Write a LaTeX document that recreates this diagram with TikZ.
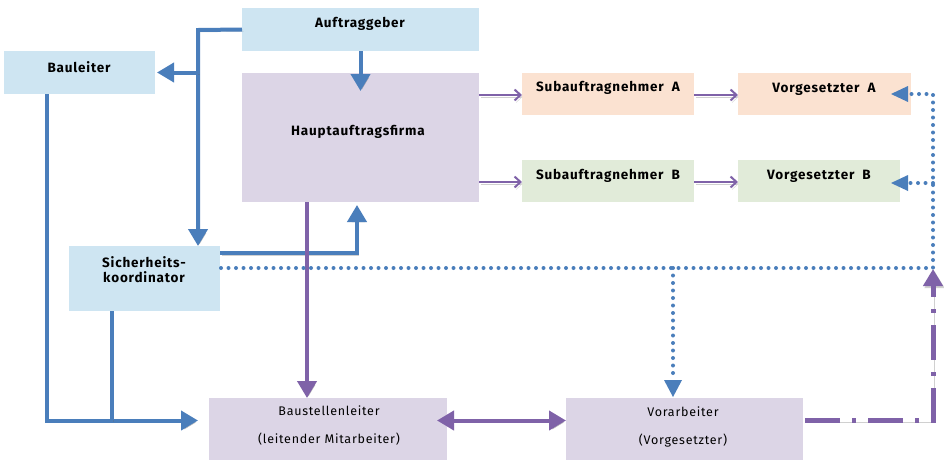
\documentclass[tikz,border=0pt]{standalone}
\usepackage{fontspec}
\setmainfont{Fira Sans}
\newfontfamily\labfont[LetterSpace=6]{Fira Sans}
\usetikzlibrary{arrows.meta}
\definecolor{cBlueBox}{HTML}{CEE5F2}
\definecolor{cPurpBox}{HTML}{DCD5E6}
\definecolor{cPeach}{HTML}{FBE2D1}
\definecolor{cGreen}{HTML}{E1EBD9}
\definecolor{cBlue}{HTML}{4A7EBB}
\definecolor{cPurp}{HTML}{7F62A8}
\tikzset{
  box/.style={draw=none, inner sep=0pt, outer sep=0pt},
  lbl/.style={inner sep=0pt, font=\labfont\fontsize{13.5}{15}\selectfont\bfseries, align=center},
  lblr/.style={inner sep=0pt, font=\labfont\fontsize{12.5}{28}\selectfont, align=center},
  shadowed/.style={preaction={draw=black!60, opacity=.3, transform canvas={shift={(1.5pt,-2pt)}}}},
  bluearrow/.style={shadowed, draw=cBlue, line width=4pt, -{Triangle[length=17pt,width=19pt]}},
  blueline/.style={shadowed, draw=cBlue, line width=4pt},
  purparrow/.style={shadowed, draw=cPurp, line width=4pt, -{Triangle[length=17pt,width=19pt]}},
  thinarrow/.style={shadowed, draw=cPurp, line width=2pt, -{Straight Barb[length=6pt,width=11pt,line width=2pt]}},
  dotline/.style={draw=cBlue, line width=4pt, line cap=round, dash pattern=on 0pt off 7.5pt},
}
\begin{document}
\begin{tikzpicture}[x=1pt,y=-1pt]
\useasboundingbox (0,0) rectangle (944,459);
\fill[white] (0,0) rectangle (944,459);
% boxes
\node[box, fill=cBlueBox, minimum width=237pt, minimum height=43pt] (auf) at (360.5,29.5) {};
\node[box, fill=cBlueBox, minimum width=151pt, minimum height=43pt] (bau) at (79.5,72.5) {};
\node[box, fill=cPurpBox, minimum width=237pt, minimum height=129pt] (hpt) at (360.5,137.5) {};
\node[box, fill=cPeach, minimum width=172pt, minimum height=42pt] (subA) at (608,94) {};
\node[box, fill=cPeach, minimum width=173pt, minimum height=42pt] (vorA) at (824.5,94) {};
\node[box, fill=cGreen, minimum width=172pt, minimum height=42pt] (subB) at (608,181) {};
\node[box, fill=cGreen, minimum width=162pt, minimum height=42pt] (vorB) at (819,181) {};
\node[box, fill=cBlueBox, minimum width=151pt, minimum height=65pt] (sik) at (144.5,278.5) {};
\node[box, fill=cPurpBox, minimum width=238pt, minimum height=62pt] (bst) at (328,429) {};
\node[box, fill=cPurpBox, minimum width=237pt, minimum height=62pt] (vor) at (684.5,429) {};
% labels
\node[lbl] (tauf) at (360,24) {Auftraggeber};
\node[lbl] (tbau) at (79,67) {Bauleiter};
\node[lbl] (thpt) at (358,132) {Hauptauftragsfirma};
\node[lbl] (tsubA) at (608,88) {Subauftragnehmer~~A};
\node[lbl] (tvorA) at (824,89) {Vorgesetzter~~A};
\node[lbl] (tsubB) at (608,176) {Subauftragnehmer~~B};
\node[lbl] (tvorB) at (819,176) {Vorgesetzter~~B};
\node[lbl] (tsik) at (144,270) {Sicherheits-\\koordinator};
\node[lblr] (tbst) at (329,426) {Baustellenleiter\\(leitender Mitarbeiter)};
\node[lblr] (tvor) at (683,427) {Vorarbeiter\\(Vorgesetzter)};
% junction coordinates
\coordinate (j1) at (198,30);
\coordinate (rc) at (933,268);
% blue connectors
\draw[bluearrow] (auf.south) -- ([yshift=-18pt]auf.south |- hpt.north);
\draw[bluearrow] (auf.west) -- (j1) -- (j1 |- sik.north);
\draw[bluearrow] (j1 |- bau.east) -- ([xshift=2pt]bau.east);
\draw[bluearrow] ([xshift=-32.5pt]bau.south) |- ([xshift=-11pt,yshift=8.5pt]bst.west);
\draw[blueline] ([xshift=-32.5pt]sik.south) -- ([xshift=-32.5pt]sik.south |- 0,420);
\draw[bluearrow] ([yshift=25.5pt]sik.east) -| ([xshift=-3.5pt,yshift=-3pt]hpt.south);
% purple connectors
\draw[purparrow] ([xshift=-53.5pt]hpt.south) -- ([xshift=-21pt]bst.north);
\draw[purparrow, {Triangle[length=17pt,width=19pt]}-{Triangle[length=17pt,width=19pt]}] ([xshift=-10pt,yshift=8.5pt]bst.east) -- ([yshift=8.5pt]vor.west);
\draw[shadowed, draw=cPurp, line width=5pt, dash pattern=on 35pt off 12pt on 4pt off 12pt, -{Triangle[length=17pt,width=19pt]}] ([xshift=2pt,yshift=8.5pt]vor.east) -| ([yshift=-1pt]rc);
\draw[thinarrow] (hpt.east |- 0,95) -- (subA.west |- 0,95);
\draw[thinarrow] (subA.east |- 0,95) -- (vorA.west |- 0,95);
\draw[thinarrow] (hpt.east |- 0,182) -- (subB.west |- 0,182);
\draw[thinarrow] (subB.east |- 0,182) -- (vorB.west |- 0,182);
% dotted connectors
\draw[dotline] ([xshift=1pt,yshift=10.5pt]sik.east) -- (rc) -- (rc |- vorA.east) -- ([xshift=-1pt]vorA.east);
\draw[dotline] (rc |- 0,183) -- ([xshift=9pt]vorB.east |- 0,183);
\draw[dotline] ([xshift=-11.5pt]vor.north |- rc) -- ([xshift=-11.5pt,yshift=18pt]vor.north);
\fill[cBlue] ([xshift=-20pt]vorA.east) -- ++(17,-8) -- ++(0,16) -- cycle;
\fill[cBlue] ([xshift=-9pt]vorB.east |- 0,183) -- ++(17,-8) -- ++(0,16) -- cycle;
\fill[cBlue] ([xshift=-11.5pt,yshift=1pt]vor.north) -- ++(-9,-17) -- ++(18,0) -- cycle;
\end{tikzpicture}
\end{document}
